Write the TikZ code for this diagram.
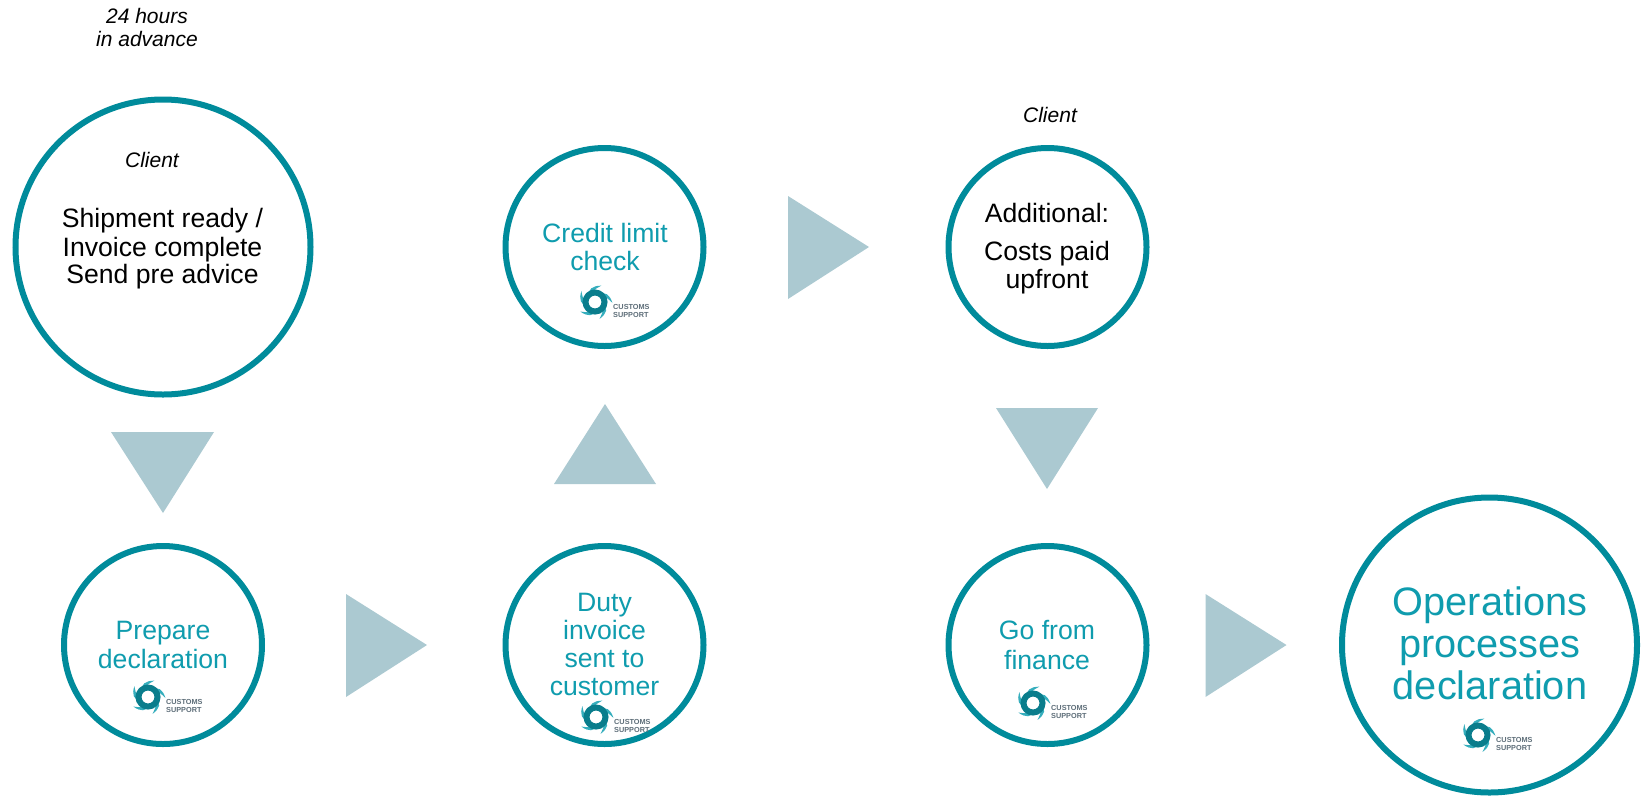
\documentclass[tikz,border=0pt]{standalone}
\usepackage{fontspec}
\setmainfont{Liberation Sans}
\definecolor{ringteal}{HTML}{008B9B}
\definecolor{textteal}{HTML}{0F9CAE}
\definecolor{triblue}{HTML}{ABC9D1}
\definecolor{logogray}{HTML}{5E6E79}
\definecolor{logolight}{HTML}{35AEBD}
\definecolor{logodark}{HTML}{0A7D8C}
\tikzset{
  stepcircle/.style={circle,draw=ringteal,line width=6pt,fill=white,inner sep=0pt},
  smallcircle/.style={stepcircle,minimum size=198pt},
  largecircle/.style={stepcircle,minimum size=295pt},
  triangle/.style={fill=triblue},
  blacktext/.style={align=center,text=black,font=\fontsize{26.6}{28}\selectfont},
  tealtext/.style={align=center,text=textteal,font=\fontsize{26.6}{28}\selectfont},
  bigtext/.style={align=center,text=textteal,font=\fontsize{39.7}{42}\selectfont},
  notetext/.style={align=center,text=black,font=\fontsize{21}{23}\selectfont\itshape},
  logotext/.style={align=left,anchor=west,inner sep=0pt,text=logogray,font=\fontsize{7.3}{8}\selectfont\bfseries},
  logo/.pic={
    \foreach \a in {0,72,144,216,288}
      \fill[logolight] (\a:8) .. controls (\a+25:15) and (\a+45:16.5) .. (\a+75:17.5) .. controls (\a+50:12.5) and (\a+35:11) .. (\a+25:9) -- cycle;
    \draw[logodark,line width=6pt] (0,0) circle (9.5);
    \node[logotext] (-name) at (18,8.5) {CUSTOMS\\SUPPORT};
  }
}
\begin{document}
\begin{tikzpicture}[x=1pt,y=-1pt]
  \useasboundingbox (0,0) rectangle (1645,796);
  % circles
  \node[largecircle] (shipment) at (163,247) {};
  \node[smallcircle] (prepare) at (163,645) {};
  \node[smallcircle] (duty) at (604.5,645) {};
  \node[smallcircle] (credit) at (604.5,247) {};
  \node[smallcircle] (additional) at (1047.5,247) {};
  \node[smallcircle] (finance) at (1047.5,645) {};
  \node[largecircle] (operations) at (1489.5,645) {};
  % triangles
  \fill[triangle] (111,432) -- (214,432) -- (163,513) -- cycle;
  \fill[triangle] (346,594) -- (346,697) -- (427,645) -- cycle;
  \fill[triangle] (554,484) -- (656,484) -- (605,404) -- cycle;
  \fill[triangle] (788,196) -- (788,299) -- (869,247) -- cycle;
  \fill[triangle] (996,408) -- (1098,408) -- (1047,489) -- cycle;
  \fill[triangle] (1205.5,594) -- (1205.5,697) -- (1286.5,645) -- cycle;
  % labels
  \node[notetext] (advance) at (147,27) {24 hours\\in advance};
  \node[notetext] (client1) at (152,160) {Client};
  \node[notetext] (client2) at (1050,115) {Client};
  \node[blacktext] (shipmenttext) at (162.5,248.5) {Shipment ready /\\[1pt]Invoice complete\\[-1pt]Send pre advice};
  \node[tealtext] (preparetext) at (163,645) {Prepare\\[1.5pt]declaration};
  \node[tealtext] (dutytext) at (604.5,644) {Duty\\invoice\\sent to\\customer};
  \node[tealtext] (credittext) at (605,246.5) {Credit limit\\check};
  \node[blacktext] (additionaltext) at (1047,213) {Additional:};
  \node[blacktext] (coststext) at (1047,268) {Costs paid\\upfront};
  \node[tealtext] (financetext) at (1047,645) {Go from\\[1.5pt]finance};
  \node[bigtext] (operationstext) at (1490,643) {Operations\\processes\\declaration};
  % logos
  \pic (logo1) at (148,697) {logo};
  \pic (logo2) at (596,717) {logo};
  \pic (logo3) at (595,302) {logo};
  \pic (logo4) at (1033,703) {logo};
  \pic (logo5) at (1478,735) {logo};
\end{tikzpicture}
\end{document}
